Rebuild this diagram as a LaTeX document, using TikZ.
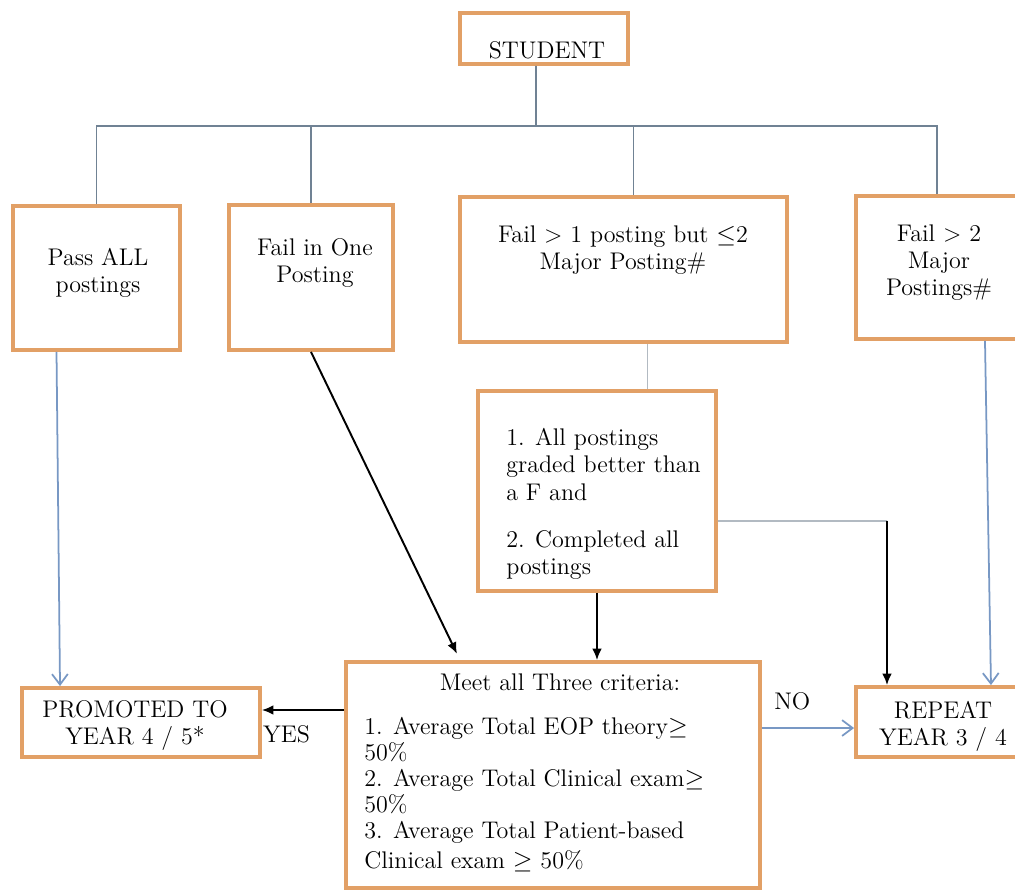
\documentclass[tikz,border=0pt]{standalone}
\usetikzlibrary{arrows.meta}
\definecolor{boxorange}{RGB}{226,160,102}
\definecolor{treegray}{RGB}{112,130,148}
\definecolor{arrowblue}{RGB}{120,152,196}
\definecolor{linegray}{RGB}{178,186,194}
\newcommand{\mainsize}{\fontsize{13.7pt}{15.6pt}\selectfont}
\newcommand{\listsize}{\fontsize{13.7pt}{14.8pt}\selectfont}
\begin{document}
\begin{tikzpicture}[x=0.02cm,y=-0.02cm]
   \tikzstyle{box}=[draw=boxorange, line width=2.2pt, inner sep=0pt]
   \tikzstyle{txt}=[align=center, inner sep=0pt, text=black, font=\mainsize]
   \tikzstyle{treeline}=[treegray, line width=0.9pt]
   \tikzstyle{bluearrow}=[arrowblue, line width=1pt, -{Straight Barb[length=6pt,width=9pt]}]
   \tikzstyle{blackarrow}=[black, line width=1.1pt, -{Latex[length=6.5pt,width=5.5pt]}]
   \tikzstyle{grayline}=[linegray, line width=1.1pt]
   \useasboundingbox (0,0) rectangle (1015,891);
   \clip (0,0) rectangle (1015,891);
   \node[box, minimum width=3.36cm, minimum height=1.02cm] (student) at (544,38.5) {};
   \node[box, minimum width=3.34cm, minimum height=2.88cm] (pass) at (96.5,278) {};
   \node[box, minimum width=3.28cm, minimum height=2.9cm] (failone) at (311,277.5) {};
   \node[box, minimum width=6.54cm, minimum height=2.9cm] (failmany) at (623.5,269.5) {};
   \node[box, minimum width=3.24cm, minimum height=2.86cm] (failmajor) at (937,267.5) {};
   \node[box, minimum width=4.76cm, minimum height=4cm] (crit) at (597,491) {};
   \node[box, minimum width=8.28cm, minimum height=4.52cm] (meet) at (553,775) {};
   \node[box, minimum width=4.76cm, minimum height=1.38cm] (promoted) at (141,722.5) {};
   \node[box, minimum width=3.36cm, minimum height=1.4cm] (repeat) at (940,722) {};
   \node[txt, anchor=north] (studentT) at (547,41) {STUDENT};
   \node[txt, anchor=north] (passT) at (98,248) {Pass ALL\\postings};
   \node[txt, anchor=north] (failoneT) at (315,238) {Fail in One\\Posting};
   \node[txt, anchor=north] (failmanyT) at (623,225) {Fail > 1 posting but $\leq$2\\Major Posting\#};
   \node[txt, anchor=north] (failmajorT) at (939,224) {Fail > 2\\Major\\Postings\#};
   \node[txt, align=left, anchor=north west] (critT) at (506,428) {1. All postings\\graded better than\\a F and\\[0.39cm]2. Completed all\\postings};
   \node[txt, anchor=north] (meetT) at (560,673) {Meet all Three criteria:};
   \node[txt, align=left, anchor=north west, font=\listsize] (meetL) at (364,717) {1. Average Total EOP theory$\geq$\\50\%\\2. Average Total Clinical exam$\geq$\\50\%\\3. Average Total Patient-based\\[2.5pt]Clinical exam $\geq$ 50\%};
   \node[txt, anchor=north] (promotedT) at (135,700) {PROMOTED TO\\YEAR 4 / 5*};
   \node[txt, anchor=north] (repeatT) at (943,701) {REPEAT\\YEAR 3 / 4};
   \coordinate (bus) at (536,126);
   \draw[treeline] ([xshift=-0.16cm]student.south) -- (bus);
   \draw[treeline] (pass.north) |- (bus) -| (failmajor.north);
   \draw[treeline] (failone.north) -- (failone.north |- bus);
   \draw[treeline] ([xshift=0.2cm]failmany.north) -- ([xshift=0.2cm]failmany.north |- bus);
   \draw[grayline, line width=0.8pt] ([xshift=0.48cm]failmany.south) -- ([xshift=0.48cm]failmany.south |- crit.north);
   \draw[bluearrow] ([xshift=-0.8cm]pass.south) -- ([xshift=-1.62cm]promoted.north);
   \draw[blackarrow, shorten >=4pt] (failone.south) -- ([xshift=-1.86cm]meet.north);
   \draw[blackarrow] (crit.south) -- (crit.south |- meet.north);
   \coordinate (bend) at (887,521);
   \draw[grayline] ([yshift=-0.6cm]crit.east) -- (bend);
   \draw[blackarrow] (bend) -- (bend |- repeat.north);
   \draw[bluearrow] ([xshift=0.96cm]failmajor.south) -- ([xshift=1.02cm]repeat.north);
   \draw[blackarrow] ([yshift=1.3cm]meet.west) -- ([yshift=1.3cm]meet.west -| promoted.east) node[pos=0.7, below=0.3cm, txt] (yes) {YES};
   \draw[bluearrow] ([yshift=0.94cm]meet.east) -- ([yshift=0.94cm]meet.east -| repeat.west) node[pos=0.33, above=0.34cm, txt] (no) {NO};
\end{tikzpicture}
\end{document}
